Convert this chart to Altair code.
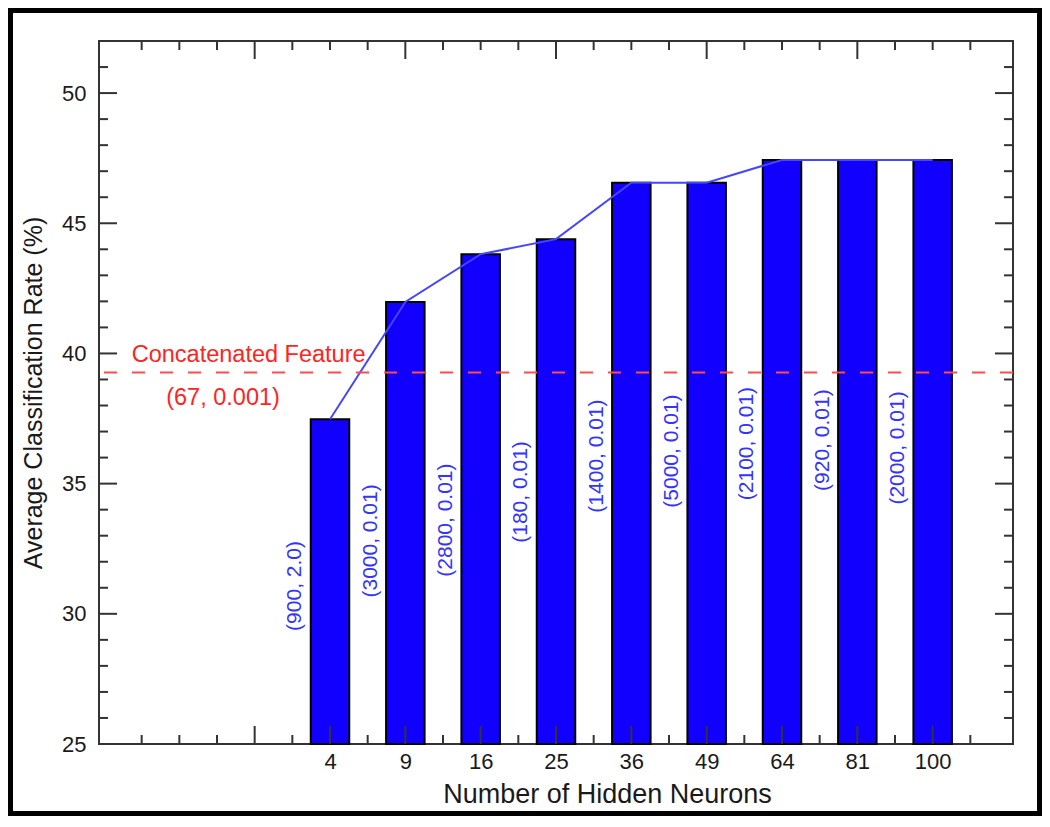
import json
import numpy as np
import pandas as pd
import altair as alt

# ---------------- data ----------------
categories = ["4", "9", "16", "25", "36", "49", "64", "81", "100"]
rates = [37.47, 41.98, 43.81, 44.39, 46.56, 46.56, 47.43, 47.43, 47.43]
params = ["(900, 2.0)", "(3000, 0.01)", "(2800, 0.01)", "(180, 0.01)", "(1400, 0.01)",
          "(5000, 0.01)", "(2100, 0.01)", "(920, 0.01)", "(2000, 0.01)"]
param_y = [31.07, 32.8, 33.6, 34.68, 36.06, 36.25, 36.54, 36.67, 36.37]
baseline_rate = 39.27
baseline_texts = ["Concatenated Feature", "(67, 0.001)"]
baseline_text_x = [-1.08, -1.42]
baseline_text_y = [39.94, 38.29]

X_DOMAIN = [-3, 9]
Y_DOMAIN = [25, 52]
W, H = 914, 703

FONT = "Liberation Sans"
BAR = "#1200ff"
LINE = "#4646ff"
LABEL_BLUE = "#3434ff"
RED = "#ff2424"
DASH_RED = "#ff4d4d"
AXIS = "#333333"

idx = list(range(len(categories)))
df = pd.DataFrame({"idx": idx, "cat": categories, "rate": rates,
                   "param": params, "py": param_y})
df["base"] = Y_DOMAIN[0]
df["px"] = df["idx"] - 0.46

xs = alt.Scale(domain=X_DOMAIN, nice=False, zero=False)
ys = alt.Scale(domain=Y_DOMAIN, nice=False, zero=False)

label_expr = json.dumps(categories) + "[datum.value]"

bars = alt.Chart(df).mark_bar(size=38.5, color=BAR, stroke="black", strokeWidth=2).encode(
    x=alt.X("idx:Q", scale=xs,
            axis=alt.Axis(values=idx, labelExpr=label_expr, ticks=False, tickSize=0,
                          domain=False, grid=False, labelFontSize=22, labelPadding=7,
                          labelColor="#1a1a1a", labelFont=FONT,
                          title="Number of Hidden Neurons", titleFontSize=27,
                          titleFontWeight="normal", titleFont=FONT, titleColor="#1a1a1a",
                          titleX=508, titleY=58, titleBaseline="alphabetic",
                          titleAlign="center")),
    y=alt.Y("rate:Q", scale=ys,
            axis=alt.Axis(values=[25, 30, 35, 40, 45, 50], ticks=False, tickSize=0,
                          domain=False, grid=False, labelFontSize=22, labelPadding=13,
                          labelColor="#1a1a1a", labelFont=FONT,
                          title="Average Classification Rate (%)", titleFontSize=25,
                          titleFontWeight="normal", titleFont=FONT, titleColor="#1a1a1a",
                          titleX=-66, titleY=H / 2, titleAngle=270,
                          titleBaseline="middle", titleAlign="center")),
    y2="base:Q",
)

line = alt.Chart(df).mark_line(color=LINE, strokeWidth=2).encode(
    x=alt.X("idx:Q", scale=xs), y=alt.Y("rate:Q", scale=ys))

ref = alt.Chart(pd.DataFrame({"v": [baseline_rate]})).mark_rule(
    color=DASH_RED, strokeWidth=2, strokeDash=[13, 15]).encode(
    y=alt.Y("v:Q", scale=ys))

ref_text = alt.Chart(pd.DataFrame({"t": baseline_texts, "x": baseline_text_x,
                                   "y": baseline_text_y})).mark_text(
    color=RED, fontSize=23.5, font=FONT, align="center", baseline="middle").encode(
    x=alt.X("x:Q", scale=xs), y=alt.Y("y:Q", scale=ys), text="t:N")

param_text = alt.Chart(df).mark_text(
    color=LABEL_BLUE, fontSize=21, font=FONT, angle=270, align="center",
    baseline="middle").encode(
    x=alt.X("px:Q", scale=xs), y=alt.Y("py:Q", scale=ys), text="param:N")

# ---------------- inward ticks ----------------
half_steps = np.arange(X_DOMAIN[0] + 0.5, X_DOMAIN[1], 0.5)
top_major = [-1, 1, 3, 5, 7]
bottom_major = sorted(set(top_major) | set(idx))
top_minor = [v for v in half_steps if v not in top_major]
bottom_minor = [v for v in half_steps if v not in bottom_major]
y_major = [25, 30, 35, 40, 45, 50]
y_minor = [v for v in range(Y_DOMAIN[0] + 1, Y_DOMAIN[1]) if v not in y_major]

LONG, SHORT = 18, 9


def xticks(vals, y0, y1):
    return alt.Chart(pd.DataFrame({"v": vals})).mark_rule(color=AXIS, strokeWidth=2).encode(
        x=alt.X("v:Q", scale=xs), y=alt.value(y0), y2=alt.value(y1))


def yticks(vals, x0, x1):
    return alt.Chart(pd.DataFrame({"v": vals})).mark_rule(color=AXIS, strokeWidth=2).encode(
        y=alt.Y("v:Q", scale=ys), x=alt.value(x0), x2=alt.value(x1))


ticks = [
    xticks(bottom_major, H, H - LONG), xticks(bottom_minor, H, H - SHORT),
    xticks(top_major, 0, LONG), xticks(top_minor, 0, SHORT),
    yticks(y_major, 0, LONG), yticks(y_minor, 0, SHORT),
    yticks(y_major, W, W - LONG), yticks(y_minor, W, W - SHORT),
]

PAD = {"left": 91, "top": 33, "right": 29, "bottom": 72}

frame = alt.Chart(pd.DataFrame({"a": [0]})).mark_rect(
    fill=None, fillOpacity=0, stroke="black", strokeWidth=5).encode(
    x=alt.value(-PAD["left"] + 2.5), x2=alt.value(W + PAD["right"] - 2.5),
    y=alt.value(-PAD["top"] + 2.5), y2=alt.value(H + PAD["bottom"] - 2.5))

chart = alt.layer(bars, line, ref, ref_text, param_text, *ticks, frame).properties(
    width=W, height=H,
    padding=PAD,
    autosize=alt.AutoSizeParams(type="none"),
    background="white",
).configure_view(stroke=AXIS, strokeWidth=2)

chart.save("out.html", embed_options={"renderer": "svg", "actions": False})
